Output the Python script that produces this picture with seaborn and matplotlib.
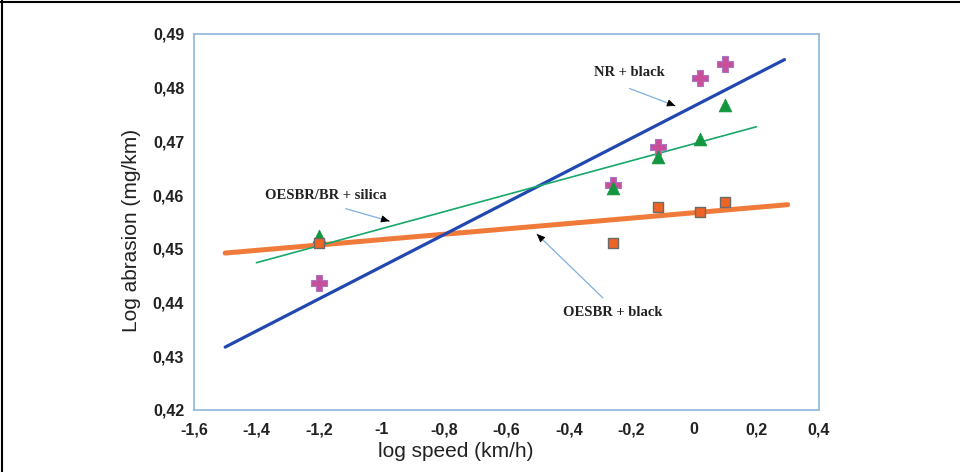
import matplotlib
matplotlib.use('Agg')
import matplotlib.pyplot as plt
from matplotlib.ticker import MultipleLocator, FuncFormatter
from matplotlib.lines import Line2D
import seaborn as sns

# measured points (log speed vs log abrasion)
log_speed = [-1.2, -0.26, -0.115, 0.02, 0.1]
nr_black = [0.4436, 0.4619, 0.4690, 0.4818, 0.4844]
oesbr_br_silica = [0.4524, 0.4613, 0.4671, 0.4705, 0.4768]
oesbr_black = [0.4511, 0.4511, 0.4578, 0.4569, 0.4587]

# fitted lines (end points)
nr_fit_x = [-1.5, 0.29]
nr_fit_y = [0.4317, 0.4852]
oesbr_fit_x = [-1.5, 0.30]
oesbr_fit_y = [0.4492, 0.4582]
silica_fit_x = [-1.4, 0.20]
silica_fit_y = [0.4474, 0.4727]

sns.set_style("white")
plt.rcParams['font.family'] = ['Liberation Sans', 'DejaVu Sans']

fig = plt.figure(figsize=(9.6, 4.72), dpi=100)
ax = fig.add_axes([0.202, 0.1314, 0.651, 0.797])

sns.lineplot(x=oesbr_fit_x, y=oesbr_fit_y, color='#f07a3a', lw=3.6, ax=ax)
sns.lineplot(x=nr_fit_x, y=nr_fit_y, color='#2148b0', lw=2.3, ax=ax)
sns.lineplot(x=silica_fit_x, y=silica_fit_y, color='#17a86a', lw=1.2, ax=ax)

sns.scatterplot(x=log_speed, y=nr_black, marker='P', s=120, color='#c8509a',
                edgecolor='#a878c8', linewidth=0.8, ax=ax, zorder=3)
sns.scatterplot(x=log_speed, y=oesbr_br_silica, marker='^', s=85, color='#12963e',
                edgecolor='#12963e', linewidth=0.5, ax=ax, zorder=4)
sns.scatterplot(x=log_speed, y=oesbr_black, marker='s', s=45, color='#ee6424',
                edgecolor='#6a6a6a', linewidth=1.0, ax=ax, zorder=5)

ax.set_xlim(-1.6, 0.4)
ax.set_ylim(0.42, 0.49)
ax.xaxis.set_major_locator(MultipleLocator(0.2))
ax.xaxis.set_minor_locator(MultipleLocator(0.1))
ax.yaxis.set_major_locator(MultipleLocator(0.01))
ax.yaxis.set_minor_locator(MultipleLocator(0.005))


def fmt_x(v, pos):
    if abs(v - round(v)) < 1e-9:
        return '%d' % round(v)
    return ('%.1f' % v).replace('.', ',')


ax.xaxis.set_major_formatter(FuncFormatter(fmt_x))
ax.yaxis.set_major_formatter(FuncFormatter(lambda v, p: ('%.2f' % v).replace('.', ',')))

spine_col = '#8db8dc'
for s in ax.spines.values():
    s.set_color(spine_col)
    s.set_linewidth(1.2)
ax.tick_params(which='both', direction='in', color=spine_col, width=1.1)
ax.tick_params(which='major', length=7, labelsize=11.5, labelcolor='#222222')
ax.tick_params(which='minor', length=4)
ax.tick_params(axis='x', pad=9)
ax.tick_params(axis='y', pad=7)
for lab in ax.get_xticklabels() + ax.get_yticklabels():
    lab.set_fontweight('bold')

ax.set_xlabel('log speed (km/h)', fontsize=15, color='#222222')
ax.set_ylabel('Log abrasion (mg/km)', fontsize=15, color='#222222')
ax.xaxis.set_label_coords(0.419, -0.085)
ax.yaxis.set_label_coords(-0.085, 0.476)

# labels with pointer arrows (thin blue shaft, small black head)
notes = [
    ('NR + black', (-0.205, 0.4828), (-0.214, 0.4800), (-0.051, 0.4764)),
    ('OESBR/BR + silica', (-1.178, 0.4600), (-1.123, 0.4576), (-0.966, 0.4550)),
    ('OESBR + black', (-0.259, 0.4381), (-0.285, 0.4405), (-0.509, 0.4531)),
]
for txt, pos, start, tip in notes:
    ax.text(pos[0], pos[1], txt, ha='center', va='center', fontsize=10.5,
            fontweight='bold', family='Liberation Serif', color='#222222')
    ax.annotate('', xy=tip, xytext=start,
                arrowprops=dict(arrowstyle='-', color='#7fb0e0', lw=0.9))
    back = (tip[0] - (tip[0] - start[0]) * 0.12, tip[1] - (tip[1] - start[1]) * 0.12)
    ax.annotate('', xy=tip, xytext=back,
                arrowprops=dict(arrowstyle='-|>,head_length=0.5,head_width=0.22',
                                color='black', lw=0.6))

# scanned-page frame
fig.add_artist(Line2D([0.002, 0.002], [0, 1], transform=fig.transFigure, color='black', lw=1.5))
fig.add_artist(Line2D([0, 1], [0.996, 0.996], transform=fig.transFigure, color='black', lw=1.5))

plt.savefig('out.png', dpi=100)
plt.close()
